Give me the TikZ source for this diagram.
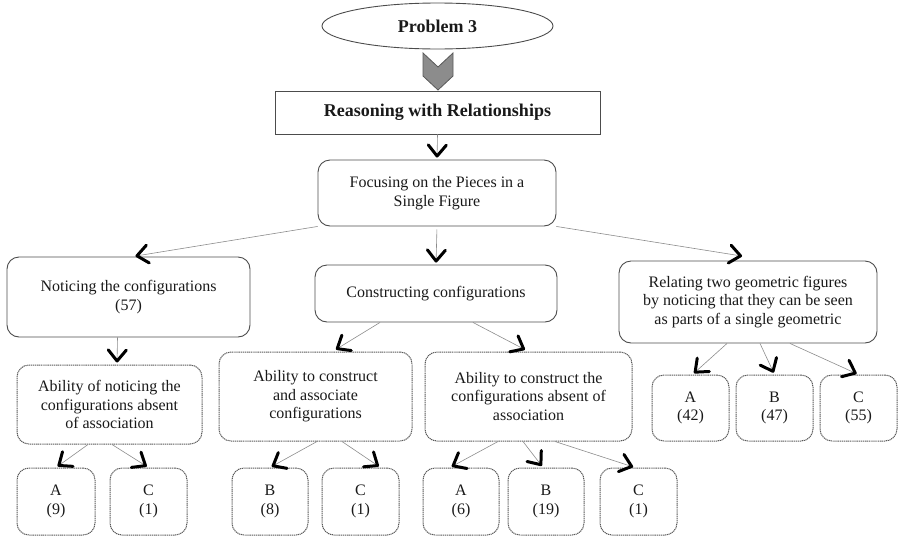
\documentclass[tikz,border=0pt]{standalone}
\usepackage{fontspec}
\setmainfont{Liberation Serif}
\usetikzlibrary{shapes.geometric,arrows.meta}
\begin{document}
\begin{tikzpicture}[x=1pt,y=-1pt,
  txt/.style={font=\fontsize{16}{18.5}\selectfont, align=center, text=black!90},
  btxt/.style={font=\fontsize{18}{20}\selectfont\bfseries, align=center, text=black!90},
  solidbox/.style={txt, draw=black!70, line width=0.9pt, rounded corners=12pt, inner sep=0pt},
  dotbox/.style={txt, draw=black!65, line width=1pt, dash pattern=on 1.2pt off 0.7pt, rounded corners=12pt, inner sep=0pt},
  conn/.style={draw=black!45, line width=0.6pt, shorten >=2pt, -{Straight Barb[length=11pt,width=18pt,line width=3pt,color=black,round]}},
]
\useasboundingbox (0,0) rectangle (899,536);

% top
\node[ellipse, btxt, draw=black!70, line width=0.9pt, inner sep=0pt, minimum width=231pt, minimum height=46pt] (prob) at (437.5,26) {Problem 3};
\draw[fill=black!45, draw=black!65, line width=0.8pt] (423,53) -- (438,67) -- (453,53) -- (453,76) -- (438,90) -- (423,76) -- cycle;
\node[btxt, draw=black!70, line width=0.9pt, inner sep=0pt, minimum width=325pt, minimum height=43pt] (reason) at (437.5,112.5) {Reasoning with Relationships};

% level 1
\node[solidbox, minimum width=238pt, minimum height=66pt] (focus) at (437,193) {Focusing on the Pieces in a\\Single Figure};

% level 2
\node[solidbox, minimum width=243pt, minimum height=80pt] (notice) at (128.5,297) {Noticing the configurations\\(57)};
\node[solidbox, minimum width=242pt, minimum height=57pt] (construct) at (436,293.5) {Constructing configurations};
\node[solidbox, minimum width=258pt, minimum height=82pt] (relate) at (748,302) {Relating two geometric figures\\by noticing that they can be seen\\as parts of a single geometric};

% level 3
\node[dotbox, minimum width=185pt, minimum height=79pt] (abnot) at (109.5,404.5) {Ability of noticing the\\configurations absent\\of association};
\node[dotbox, minimum width=193pt, minimum height=89pt] (abassoc) at (315.5,396.5) {Ability to construct\\and associate\\configurations};
\node[dotbox, minimum width=207pt, minimum height=89pt] (abthe) at (528.5,396.5) {Ability to construct the\\configurations absent of\\association};
\node[dotbox, minimum width=77pt, minimum height=66pt] (rA) at (690.5,408) {A\\(42)};
\node[dotbox, minimum width=77pt, minimum height=66pt] (rB) at (774.5,408) {B\\(47)};
\node[dotbox, minimum width=77pt, minimum height=66pt] (rC) at (858.5,408) {C\\(55)};

% level 4
\node[dotbox, minimum width=78pt, minimum height=67pt] (nA) at (56,501.5) {A\\(9)};
\node[dotbox, minimum width=77pt, minimum height=67pt] (nC) at (148.5,501.5) {C\\(1)};
\node[dotbox, minimum width=76pt, minimum height=67pt] (aB) at (270,501.5) {B\\(8)};
\node[dotbox, minimum width=77pt, minimum height=67pt] (aC) at (360.5,501.5) {C\\(1)};
\node[dotbox, minimum width=76pt, minimum height=67pt] (tA) at (461,501.5) {A\\(6)};
\node[dotbox, minimum width=76pt, minimum height=67pt] (tB) at (546,501.5) {B\\(19)};
\node[dotbox, minimum width=77pt, minimum height=67pt] (tC) at (638.5,501.5) {C\\(1)};

% connectors
\draw[conn] (reason.south) -- (focus.north);
\draw[conn, shorten >=3pt] (focus.south west) -- ([xshift=4pt]notice.north);
\draw[conn, shorten <=3pt] (focus.south) -- (construct.north);
\draw[conn, shorten >=3pt] (focus.south east) -- ([xshift=-3pt]notice.north -| relate.north);
\draw[conn] ([xshift=-11pt]notice.south) -- ([xshift=7.5pt]abnot.north);
\draw[conn, shorten >=4pt] ([xshift=-56pt]construct.south) -- ([xshift=17pt]abassoc.north);
\draw[conn, shorten >=4pt] ([xshift=37pt]construct.south) -- (abthe.north);
\draw[conn] ([xshift=-21pt]relate.south) -- ([xshift=2pt]rA.north);
\draw[conn] ([xshift=12pt]relate.south) -- (rB.north);
\draw[conn] ([xshift=42pt]relate.south) -- (rC.north);
\draw[conn] ([xshift=-21.5pt]abnot.south) -- (nA.north);
\draw[conn] ([xshift=2.5pt]abnot.south) -- (nC.north);
\draw[conn] ([xshift=1.5pt]abassoc.south) -- (aB.north);
\draw[conn] ([xshift=26.5pt]abassoc.south) -- ([xshift=20pt]aC.north);
\draw[conn] ([xshift=-30.5pt]abthe.south) -- ([xshift=-11pt]tA.north);
\draw[conn] ([xshift=-5.5pt]abthe.south) -- ([xshift=-3pt]tB.north);
\draw[conn] ([xshift=26.5pt]abthe.south) -- ([xshift=-3.5pt]tC.north);
\end{tikzpicture}
\end{document}
